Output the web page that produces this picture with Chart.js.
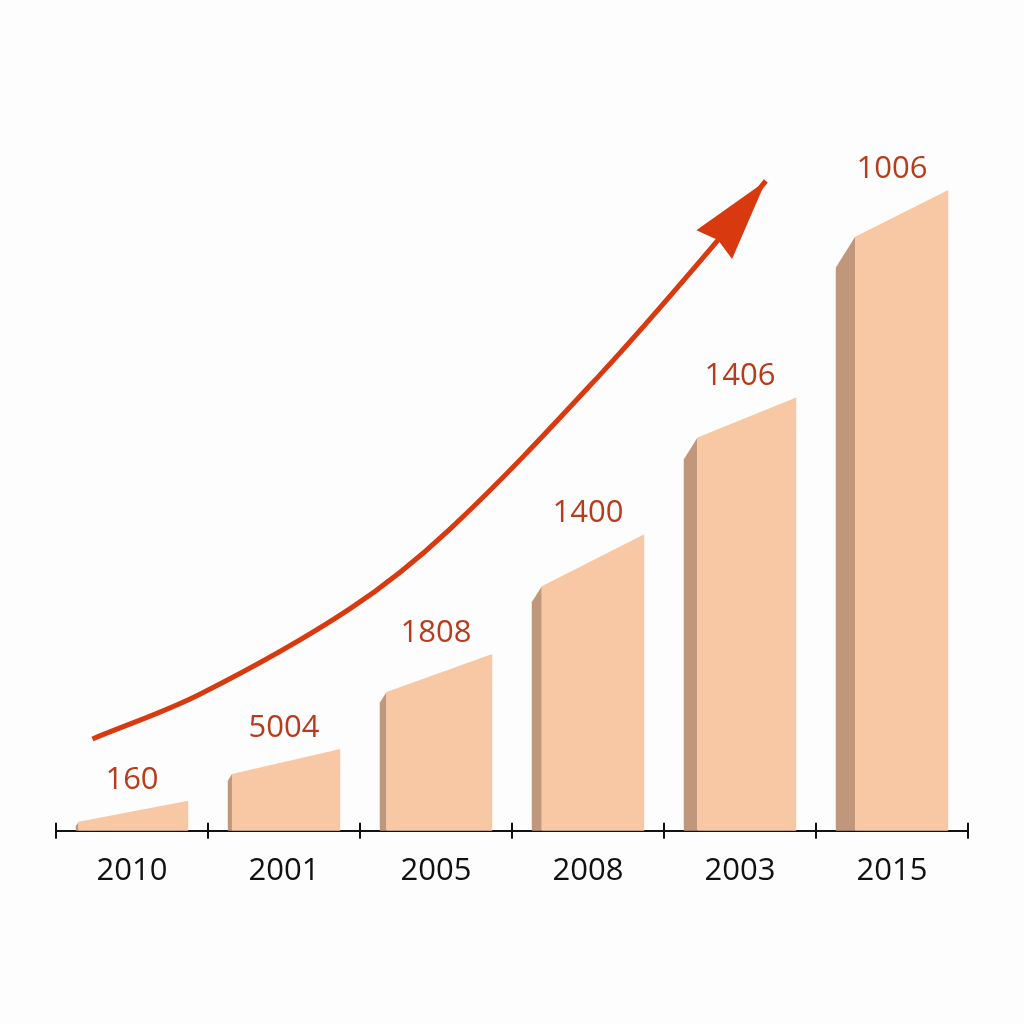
<!DOCTYPE html>
<html>
<head>
<meta charset="utf-8">
<script src="https://cdn.jsdelivr.net/npm/chart.js@4.4.1/dist/chart.umd.min.js"></script>
<style>
  html, body { margin: 0; padding: 0; background: #fdfdfd; }
  #wrap { width: 1024px; height: 1024px; }
</style>
</head>
<body>
<div id="wrap"><canvas id="growth"></canvas></div>
<script>
// categories as printed under the axis
const years = ['2010', '2001', '2005', '2008', '2003', '2015'];
// printed value labels above the bars
const valueLabels = ['160', '5004', '1808', '1400', '1406', '1006'];
// bar heights: top-left and top-right corner of the front face (slanted tops)
const topLeft = [9, 57, 139, 245, 394, 595];
const topRight = [30, 82, 177, 297, 434, 642];
// trend arrow path, x in category units
const arrowX = [-0.26, 0.45, 1.43, 2.09, 3.08, 3.84, 4.17];
const arrowY = [92, 137, 222, 302, 457, 589, 651];

const FACE = '#f8c7a3';
const SIDE = '#c0977b';
const LABEL = '#b83c1c';
const ARROW = '#d8390f';

const slantedBars = {
    id: 'slantedBars',
    beforeDatasetsDraw: function(chart) {
        const ctx = chart.ctx;
        const y = chart.scales.y;
        const base = y.getPixelForValue(0);
        const meta = chart.getDatasetMeta(0);
        ctx.save();
        meta.data.forEach((bar, i) => {
            const xL = bar.x - bar.width / 2;
            const xR = bar.x + bar.width / 2;
            const yl = y.getPixelForValue(topLeft[i]);
            const yr = y.getPixelForValue(topRight[i]);
            const s = 2 + (base - yr) * 0.027;

            // darker left side
            ctx.fillStyle = SIDE;
            ctx.beginPath();
            ctx.moveTo(xL, base);
            ctx.lineTo(xL, Math.min(base, yl + s * 1.6));
            ctx.lineTo(xL + s, yl);
            ctx.lineTo(xL + s, base);
            ctx.closePath();
            ctx.fill();

            // front face
            ctx.fillStyle = FACE;
            ctx.beginPath();
            ctx.moveTo(xL + s, base);
            ctx.lineTo(xL + s, yl);
            ctx.lineTo(xR, yr);
            ctx.lineTo(xR, base);
            ctx.closePath();
            ctx.fill();

            ctx.fillStyle = LABEL;
            ctx.font = '31px "Open Sans"';
            ctx.textAlign = 'center';
            ctx.textBaseline = 'middle';
            ctx.fillText(valueLabels[i], bar.x, yr - 21);
        });
        ctx.restore();
    },
    afterDatasetsDraw: function(chart) {
        const ctx = chart.ctx;
        const xa = chart.scales.xa;
        const y = chart.scales.y;
        const n = arrowX.length;
        const tx = xa.getPixelForValue(arrowX[n - 1]);
        const ty = y.getPixelForValue(arrowY[n - 1]);
        const px = xa.getPixelForValue(arrowX[n - 2]);
        const py = y.getPixelForValue(arrowY[n - 2]);
        const ang = Math.atan2(ty - py, tx - px);
        const len = 82, half = 23;
        const bx = tx - Math.cos(ang) * len;
        const by = ty - Math.sin(ang) * len;
        const nx = -Math.sin(ang), ny = Math.cos(ang);
        ctx.save();
        ctx.fillStyle = ARROW;
        ctx.beginPath();
        ctx.moveTo(tx, ty);
        ctx.lineTo(bx + nx * half, by + ny * half);
        ctx.lineTo(bx + Math.cos(ang) * 6, by + Math.sin(ang) * 6);
        ctx.lineTo(bx - nx * half, by - ny * half);
        ctx.closePath();
        ctx.fill();

        // tick marks crossing the axis line
        const xs = chart.scales.x;
        const base = y.getPixelForValue(0);
        const step = (xs.right - xs.left) / years.length;
        ctx.strokeStyle = '#111';
        ctx.lineWidth = 2;
        for (let i = 0; i <= years.length; i++) {
            const gx = Math.round(xs.left + i * step);
            ctx.beginPath();
            ctx.moveTo(gx, base - 8);
            ctx.lineTo(gx, base);
            ctx.stroke();
        }
        ctx.restore();
    }
};

new Chart(document.getElementById('growth').getContext('2d'), {
    type: 'bar',
    data: {
        labels: years,
        datasets: [
            {
                type: 'bar',
                data: topRight,
                backgroundColor: 'rgba(0,0,0,0)',
                barPercentage: 0.74,
                categoryPercentage: 1.0,
                grouped: false,
                xAxisID: 'x',
                yAxisID: 'y'
            },
            {
                type: 'line',
                data: arrowX.map((x, i) => ({ x: x, y: arrowY[i] })),
                borderColor: ARROW,
                borderWidth: 5,
                pointRadius: 0,
                tension: 0.35,
                xAxisID: 'xa',
                yAxisID: 'y'
            }
        ]
    },
    plugins: [slantedBars],
    options: {
        responsive: true,
        maintainAspectRatio: false,
        animation: false,
        layout: { padding: { left: 56, right: 56, top: 132, bottom: 120 } },
        plugins: {
            legend: { display: false },
            tooltip: { enabled: false }
        },
        scales: {
            x: {
                type: 'category',
                offset: true,
                grid: {
                    display: true,
                    offset: true,
                    drawOnChartArea: false,
                    tickLength: 8,
                    color: '#111',
                    lineWidth: 2
                },
                border: { display: true, color: '#111', width: 2 },
                ticks: {
                    color: '#111',
                    padding: 14,
                    font: { family: '"Open Sans"', size: 31 }
                }
            },
            xa: {
                type: 'linear',
                display: false,
                offset: false,
                min: -0.5,
                max: 5.5
            },
            y: {
                display: false,
                min: 0,
                max: 700
            }
        }
    }
});
</script>
</body>
</html>
